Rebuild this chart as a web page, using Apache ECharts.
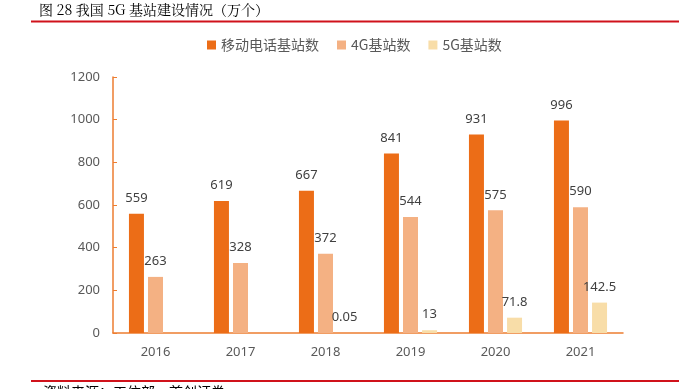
<!DOCTYPE html>
<html><head><meta charset="utf-8">
<script src="https://cdn.jsdelivr.net/npm/echarts@6/dist/echarts.min.js"></script>
<style>html,body{margin:0;padding:0;background:#fff}#c{width:685px;height:389px}</style>
</head><body><div id="c"></div>
<script>
const categories = ['2016','2017','2018','2019','2020','2021'];
const mobileStations = [559, 619, 667, 841, 931, 996];
const stations4G = [263, 328, 372, 544, 575, 590];
const stations5G = [null, null, 0.05, 13, 71.8, 142.5];
const seriesNames = ['移动电话基站数', '4G基站数', '5G基站数'];

const chart = echarts.init(document.getElementById('c'), null, {renderer: 'canvas'});
const numFont = '"Noto Sans", "Liberation Sans", sans-serif';
const lbl = {show: true, position: 'top', distance: 9, color: '#404040', fontSize: 13, fontFamily: numFont};
chart.setOption({
  animation: false,
  textStyle: {fontFamily: numFont},
  legend: {
    top: 33, left: 202,
    itemWidth: 9, itemHeight: 9, itemGap: 18, padding: 5,
    icon: 'rect',
    textStyle: {color: '#595959', fontSize: 14, fontFamily: '"Noto Sans CJK SC"'},
    data: seriesNames
  },
  grid: {left: 113, right: 62, top: 77, bottom: 56},
  xAxis: {
    type: 'category', data: categories,
    axisLine: {lineStyle: {color: '#ED7D31', width: 1.5}},
    axisTick: {show: false},
    axisLabel: {color: '#595959', fontSize: 13, margin: 13, fontFamily: numFont}
  },
  yAxis: {
    type: 'value', min: 0, max: 1200, interval: 200,
    axisLine: {show: true, lineStyle: {color: '#ED7D31', width: 1.5}},
    axisTick: {show: true, inside: true, length: 4, lineStyle: {color: '#ED7D31'}},
    splitLine: {show: false},
    axisLabel: {color: '#595959', fontSize: 13, margin: 13, fontFamily: numFont, formatter: v => String(v)}
  },
  series: [
    {name: seriesNames[0], type: 'bar', data: mobileStations, barWidth: 15, barGap: '27%', itemStyle: {color: '#EC6D17'}, label: lbl},
    {name: seriesNames[1], type: 'bar', data: stations4G, barWidth: 15, barGap: '27%', itemStyle: {color: '#F4B183'}, label: lbl},
    {name: seriesNames[2], type: 'bar', data: stations5G, barWidth: 15, barGap: '27%', itemStyle: {color: '#F8DDA8'}, label: lbl}
  ],
  graphic: [
    {type: 'text', left: 39, top: 3, style: {text: '图 28 我国 5G 基站建设情况（万个）', fill: '#000', font: '14px "Noto Serif CJK SC", "Liberation Serif", "Noto Sans CJK SC", serif'}},
    {type: 'rect', shape: {x: 31, y: 20.5, width: 648, height: 2}, style: {fill: '#D0121B'}},
    {type: 'rect', shape: {x: 31, y: 380, width: 648, height: 2}, style: {fill: '#D0121B'}},
    {type: 'text', left: 43, top: 385, style: {text: '资料来源：工信部，首创证券', fill: '#000', font: '14px "Noto Sans CJK SC", sans-serif'}}
  ]
});
</script></body></html>
